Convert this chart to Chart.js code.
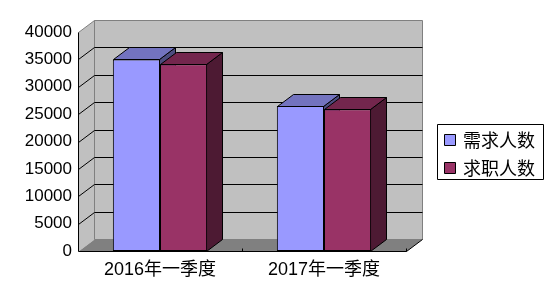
<!DOCTYPE html>
<html>
<head>
<meta charset="utf-8">
<script src="https://cdn.jsdelivr.net/npm/chart.js@4/dist/chart.umd.min.js"></script>
<style>
  html, body { margin: 0; padding: 0; background: #fff; }
  #wrap { width: 555px; height: 305px; }
</style>
</head>
<body>
<div id="wrap"><canvas id="chart" width="555" height="305"></canvas></div>
<script>
// dados
const categories = ['2016年一季度', '2017年一季度'];
const seriesNames = ['需求人数', '求职人数'];
const demandValues = [35000, 26500];
const seekerValues = [34100, 25900];
const yTicks = [0, 5000, 10000, 15000, 20000, 25000, 30000, 35000, 40000];

const frontColors = ['#9999FF', '#993366'];
const topColors = ['#7373BF', '#73264D'];
const sideColors = ['#4D4D80', '#4D1A33'];

// profundidade do efeito 3D
const DX = 16;
const DY = -12;

const poly = (ctx, pts, fill, stroke) => {
    ctx.beginPath();
    ctx.moveTo(pts[0][0], pts[0][1]);
    pts.slice(1).forEach(p => ctx.lineTo(p[0], p[1]));
    ctx.closePath();
    if (fill) { ctx.fillStyle = fill; ctx.fill(); }
    if (stroke) { ctx.strokeStyle = stroke; ctx.lineWidth = 1; ctx.stroke(); }
};

const line = (ctx, x1, y1, x2, y2, color) => {
    ctx.beginPath();
    ctx.moveTo(x1, y1);
    ctx.lineTo(x2, y2);
    ctx.strokeStyle = color;
    ctx.lineWidth = 1;
    ctx.stroke();
};

// paredes, piso, grade e faces laterais/superiores das barras
const box3d = {
    id: 'box3d',
    beforeDatasetsDraw: (chart) => {
        const { ctx, chartArea: a, scales } = chart;
        const L = Math.round(a.left) + 0.5, R = Math.round(a.right) + 0.5;
        const T = Math.round(a.top) + 0.5, B = Math.round(a.bottom) + 0.5;
        ctx.save();

        // parede do fundo
        poly(ctx, [[L + DX, T + DY], [R + DX, T + DY], [R + DX, B + DY], [L + DX, B + DY]], '#C0C0C0', '#808080');
        // parede lateral
        poly(ctx, [[L, T], [L + DX, T + DY], [L + DX, B + DY], [L, B]], '#C0C0C0', null);
        line(ctx, L, T, L + DX, T + DY, '#808080');
        line(ctx, L + DX, T + DY, L + DX, B + DY, '#808080');
        // piso
        poly(ctx, [[L, B], [L + DX, B + DY], [R + DX, B + DY], [R, B]], '#808080', null);
        line(ctx, R, B, R + DX, B + DY, '#000');

        // linhas de grade
        yTicks.slice(1, -1).forEach(v => {
            const y = Math.round(scales.y.getPixelForValue(v)) + 0.5;
            line(ctx, L + DX, y + DY, R + DX, y + DY, '#000');
            line(ctx, L, y, L + DX, y + DY, '#000');
        });

        // eixos frontais
        line(ctx, L, T, L, B, '#000');
        line(ctx, L, B, R, B, '#000');
        const step = (a.right - a.left) / categories.length;
        for (let i = 1; i <= categories.length; i++) {
            const x = Math.round(a.left + step * i) + 0.5;
            line(ctx, x, B, x, B - 3, '#000');
        }

        // faces das barras (topo e lateral)
        const nCat = categories.length;
        for (let c = 0; c < nCat; c++) {
            chart.data.datasets.forEach((ds, di) => {
                const bar = chart.getDatasetMeta(di).data[c];
                const { x, y, base, width } = bar.getProps(['x', 'y', 'base', 'width']);
                const l = Math.round(x - width / 2) + 0.5;
                const r = Math.round(x + width / 2) - 0.5;
                const t = Math.round(y) + 0.5;
                const b = Math.round(base) + 0.5;
                poly(ctx, [[r, t], [r + DX, t + DY], [r + DX, b + DY], [r, b]], sideColors[di], '#000');
                poly(ctx, [[l, t], [l + DX, t + DY], [r + DX, t + DY], [r, t]], topColors[di], '#000');
            });
        }
        ctx.restore();
    },
    afterDraw: (chart) => {
        const { ctx } = chart;
        ctx.save();
        // legenda com moldura
        poly(ctx, [[437.5, 124.5], [543.5, 124.5], [543.5, 179.5], [437.5, 179.5]], '#fff', '#000');
        ctx.font = '18px "Noto Sans CJK SC", sans-serif';
        ctx.textBaseline = 'middle';
        chart.data.datasets.forEach((ds, i) => {
            const yc = 140 + i * 28;
            poly(ctx, [[444.5, yc - 5.5], [455.5, yc - 5.5], [455.5, yc + 5.5], [444.5, yc + 5.5]], frontColors[i], '#000');
            ctx.fillStyle = '#000';
            ctx.fillText(ds.label, 463, yc);
        });
        ctx.restore();
    }
};

new Chart(document.getElementById('chart'), {
    type: 'bar',
    plugins: [box3d],
    data: {
        labels: categories,
        datasets: [
            {
                label: seriesNames[0],
                data: demandValues,
                backgroundColor: frontColors[0],
                borderColor: '#000',
                borderWidth: 1,
                borderSkipped: false,
                barPercentage: 1,
                categoryPercentage: 0.575
            },
            {
                label: seriesNames[1],
                data: seekerValues,
                backgroundColor: frontColors[1],
                borderColor: '#000',
                borderWidth: 1,
                borderSkipped: false,
                barPercentage: 1,
                categoryPercentage: 0.575
            }
        ]
    },
    options: {
        responsive: false,
        animation: false,
        layout: { padding: { left: 0, top: 32, right: 149, bottom: 0 } },
        plugins: {
            legend: { display: false },
            tooltip: { enabled: false }
        },
        scales: {
            x: {
                grid: { display: false, drawTicks: false },
                border: { display: false },
                ticks: {
                    color: '#000',
                    padding: 8,
                    font: { size: 18, family: '"Liberation Sans", "Noto Sans CJK SC", sans-serif' }
                },
                afterFit: (scale) => { scale.height = 54; }
            },
            y: {
                min: 0,
                max: 40000,
                grid: { display: false, drawTicks: false },
                border: { display: false },
                ticks: {
                    stepSize: 5000,
                    color: '#000',
                    padding: 6,
                    font: { size: 17, family: '"Liberation Sans", "Noto Sans CJK SC", sans-serif' },
                    callback: (v) => String(v)
                },
                afterFit: (scale) => { scale.width = 78; }
            }
        }
    }
});
</script>
</body>
</html>
